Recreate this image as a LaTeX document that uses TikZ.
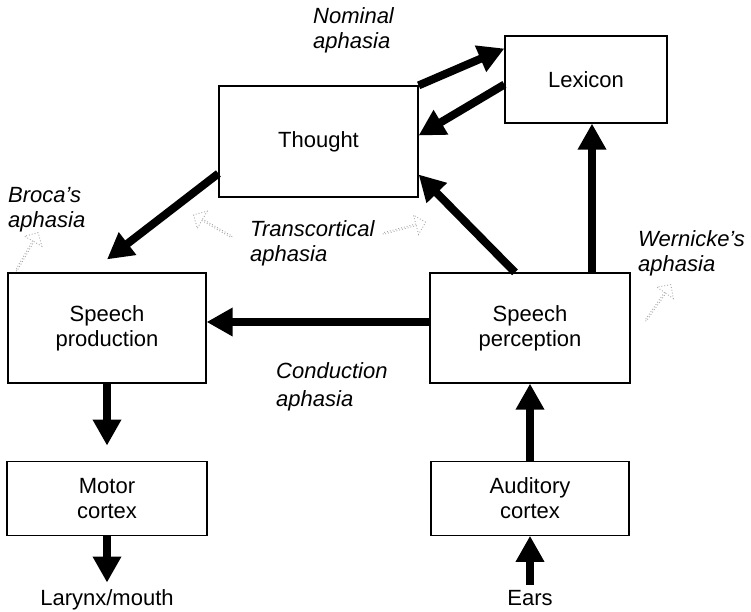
\documentclass[tikz,border=0pt]{standalone}
\usepackage{fontspec}
\setmainfont{Liberation Sans}
\usetikzlibrary{positioning,calc,arrows.meta,shapes.arrows}

\begin{document}
\begin{tikzpicture}[
  x = 1pt, y = -1pt,
  font = \fontsize{22}{25}\selectfont,
  node distance = 77pt,
  box/.style = {draw, line width=1.2pt, inner sep=0pt, align=center},
  thick-arrow/.style = {line width=8pt, -{Triangle[length=26pt,width=27pt]}},
  aphasia-label/.style = {anchor=north west, inner sep=0pt, align=left,
    font=\fontsize{22}{25}\selectfont\itshape},
  end-label/.style = {inner sep=0pt},
  ghost-arrow/.style = {single arrow, draw=black!35, dotted, line width=0.9pt,
    minimum height=44pt, minimum width=20pt, single arrow head extend=5pt, inner sep=0pt},
  ]
  \useasboundingbox (0,0) rectangle (751,611);

  \node[box, minimum width=199pt, minimum height=111pt] (thought) at (318.5,141.5) {Thought};
  \node[box, minimum width=162pt, minimum height=87pt] (lexicon) at (586,79.5) {Lexicon};
  \node[box, minimum width=198pt, minimum height=110pt] (production) at (107,328) {Speech\\production};
  \node[box, minimum width=200pt, minimum height=110pt] (perception) at (530,328) {Speech\\perception};
  \node[box, minimum width=200pt, minimum height=74pt, below=of production] (motor) {Motor\\cortex};
  \node[box, minimum width=198pt, minimum height=74pt, below=of perception] (auditory) {Auditory\\cortex};

  \node[end-label] (larynx) at (107,600) {Larynx/mouth};
  \node[end-label] (ears) at (530,598) {Ears};

  \node[aphasia-label] (nominal) at (313,7) {Nominal\\aphasia};
  \node[aphasia-label] (broca) at (8,187) {Broca's\\aphasia};
  \node[aphasia-label] (transcortical) at (250,220) {Transcortical\\aphasia};
  \node[aphasia-label] (wernicke) at (638,230) {Wernicke's\\aphasia};
  \node[aphasia-label] (conduction) at (276,362) {Conduction\\[3pt]aphasia};

  \node[ghost-arrow, rotate=60] (broca-ghost) at (27,252) {};
  \node[ghost-arrow, rotate=150] (transcortical-ghost-left) at (213,226) {};
  \node[ghost-arrow, rotate=15] (transcortical-ghost-right) at (404,228) {};
  \node[ghost-arrow, rotate=55] (wernicke-ghost) at (658,303) {};

  \draw[thick-arrow] (thought.north east) -- ([yshift=31pt]lexicon.west);
  \draw[thick-arrow] ([yshift=-5pt]lexicon.west) -- ([yshift=6pt]thought.east);
  \draw[thick-arrow] ([yshift=-32pt]thought.west) -- ([yshift=13pt]production.north);
  \draw[thick-arrow] ([xshift=-15pt]perception.north) -- ([yshift=-33pt]thought.east);
  \draw[thick-arrow] ([xshift=62pt]perception.north) -- ([xshift=62pt]perception.north |- lexicon.south);
  \draw[thick-arrow] ([yshift=6pt]perception.west) -- ([yshift=6pt]production.east);
  \draw[thick-arrow] (production.south) -- ([yshift=15pt]motor.north);
  \draw[thick-arrow] (auditory.north) -- (perception.south);
  \draw[thick-arrow] (motor.south) -- ([yshift=7pt]larynx.north);
  \draw[thick-arrow] ([yshift=5pt]ears.north) -- (auditory.south);
\end{tikzpicture}
\end{document}
